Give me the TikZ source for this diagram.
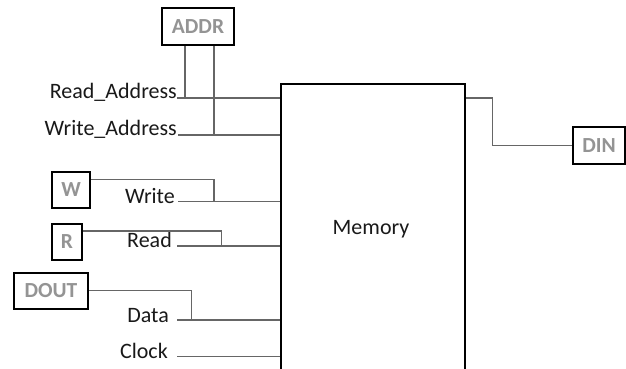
\documentclass[tikz,border=0pt]{standalone}
\usepackage{fontspec}
\setmainfont{Carlito}
\begin{document}
\begin{tikzpicture}[x=1pt,y=-1pt,
  box/.style={draw=black, line width=2pt, fill=white, inner sep=0pt, text=black!42, font=\fontsize{21.5}{25}\selectfont\bfseries},
  lbl/.style={anchor=base east, inner sep=0pt, text=black!90, font=\fontsize{22}{26}\selectfont},
  wire/.style={draw=black!60, line width=1.1pt}]
\useasboundingbox (0,0) rectangle (626,369);
\clip (0,0) rectangle (626,369);
% memory
\node[draw=black, line width=2pt, minimum width=184, minimum height=300, inner sep=0pt, anchor=north west] (mem) at (280,83) {};
\node[inner sep=0pt, font=\fontsize{22}{26}\selectfont, text=black!90] (memlbl) at (371,229) {Memory};
% boxes
\node[box, minimum width=72, minimum height=37] (addr) at (198,27) {ADDR};
\node[box, minimum width=38, minimum height=36] (w) at (71,190) {W};
\node[box, minimum width=30, minimum height=36] (r) at (67,241.5) {R};
\node[box, minimum width=74, minimum height=36] (dout) at (51,291) {DOUT};
\node[box, minimum width=52, minimum height=37] (din) at (599,145.5) {DIN};
% labels
\node[lbl] (lra) at (177,98.5) {Read\_Address};
\node[lbl] (lwa) at (177,135) {Write\_Address};
\node[lbl] (lw) at (175,203) {Write};
\node[lbl] (lr) at (172,247.5) {Read};
\node[lbl] (ld) at (169,322) {Data};
\node[lbl] (lc) at (168,358.5) {Clock};
% pin coordinates
\coordinate (pra) at (177,98);
\coordinate (pwa) at (178,135);
\coordinate (pw) at (178,201.5);
\coordinate (pr) at (177,246);
\coordinate (pd) at (177,320);
\coordinate (pc) at (177,356.5);
\coordinate (jra) at (185,98);
\coordinate (jwa) at (214,135);
\coordinate (jw) at (214,201.5);
\coordinate (jr) at (221.5,246);
\coordinate (jd) at (191.5,320);
\coordinate (jdin) at (492.5,98);
% wires to memory
\draw[wire] (pra) -- (pra -| mem.west);
\draw[wire] (pwa) -- (pwa -| mem.west);
\draw[wire] (pw) -- (pw -| mem.west);
\draw[wire] (pr) -- (pr -| mem.west);
\draw[wire] (pd) -- (pd -| mem.west);
\draw[wire] (pc) -- (pc -| mem.west);
% address bus
\draw[wire] (addr.south -| jra) -- (jra);
\draw[wire] (addr.south -| jwa) -- (jwa);
% control boxes
\draw[wire] (w.east |- 0,179.5) -| (jw);
\draw[wire] (r.east |- 0,231) -| (jr);
\draw[wire] (dout.east |- 0,290.5) -| (jd);
% DIN
\draw[wire] (mem.east |- jdin) -- (jdin) |- (din.west);
\end{tikzpicture}
\end{document}
